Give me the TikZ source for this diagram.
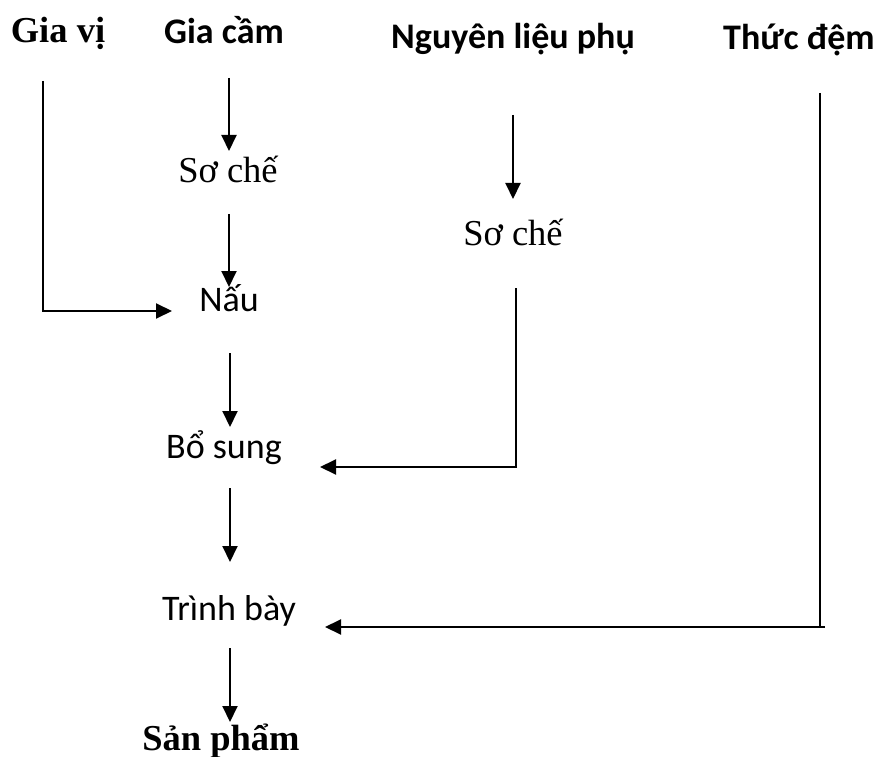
\documentclass[tikz,border=0pt]{standalone}
\usepackage{fontspec}
\setmainfont{Liberation Serif}
\newfontfamily\calib{Carlito}
\usetikzlibrary{arrows.meta}
\begin{document}
\begin{tikzpicture}[x=1pt,y=-1pt,
  txt/.style={anchor=base,inner sep=0pt},
  ser/.style={txt,font=\fontsize{36.5}{40}\selectfont},
  serb/.style={txt,font=\fontsize{36.5}{40}\selectfont\bfseries},
  san/.style={txt,font=\fontsize{36}{40}\selectfont\calib},
  sanb/.style={txt,font=\fontsize{36}{40}\selectfont\calib\bfseries},
  arr/.style={line width=2pt,-{Triangle[length=16pt,width=15pt]}},
  thin/.style={line width=1.1pt}]
\useasboundingbox (0,0) rectangle (879,757);
\node[serb] (gv) at (58,43) {Gia vị};
\node[sanb] (gc) at (224,44) {Gia cầm};
\node[sanb] (ng) at (513,49) {Nguyên liệu phụ};
\node[sanb] (td) at (799,50) {Thức đệm};
\node[ser] (sc1) at (228,183) {Sơ chế};
\node[san] (nau) at (229,311) {Nấu};
\node[ser] (sc2) at (513,245) {Sơ chế};
\node[san] (bs) at (224,458) {Bổ sung};
\node[san] (tb) at (229,620) {Trình bày};
\node[serb] (sp) at (221,750) {Sản phẩm};
% connector end points
\coordinate (gvA) at (43,81);
\coordinate (gvB) at (43,311);
\coordinate (gvC) at (42,311);
\coordinate (nauW) at (172,311);
\coordinate (gcS) at (229,78);
\coordinate (sc1N) at (229,151);
\coordinate (sc1S) at (229,214);
\coordinate (nauN) at (229,287);
\coordinate (nauS) at (230,353);
\coordinate (bsN) at (230,427);
\coordinate (bsS) at (230,488);
\coordinate (tbN) at (230,562);
\coordinate (tbS) at (230,648);
\coordinate (spN) at (230,722);
\coordinate (ngS) at (513,115);
\coordinate (sc2N) at (513,199);
\coordinate (sc2S) at (516,288);
\coordinate (sc2C) at (516,467);
\coordinate (sc2D) at (517,467);
\coordinate (bsE) at (320,467);
\coordinate (tdS) at (820,93);
\coordinate (tdC) at (820,627);
\coordinate (tdD) at (825,627);
\coordinate (tbE) at (325,627);
\draw[thin] (gvA) -- (gvB);
\draw[arr] (gvC) -- (nauW);
\draw[arr] (gcS) -- (sc1N);
\draw[arr] (sc1S) -- (nauN);
\draw[arr] (nauS) -- (bsN);
\draw[arr] (bsS) -- (tbN);
\draw[arr] (tbS) -- (spN);
\draw[arr] (ngS) -- (sc2N);
\draw[thin] (sc2S) -- (sc2C);
\draw[arr] (sc2D) -- (bsE);
\draw[thin] (tdS) -- (tdC);
\draw[arr] (tdD) -- (tbE);
\end{tikzpicture}
\end{document}
